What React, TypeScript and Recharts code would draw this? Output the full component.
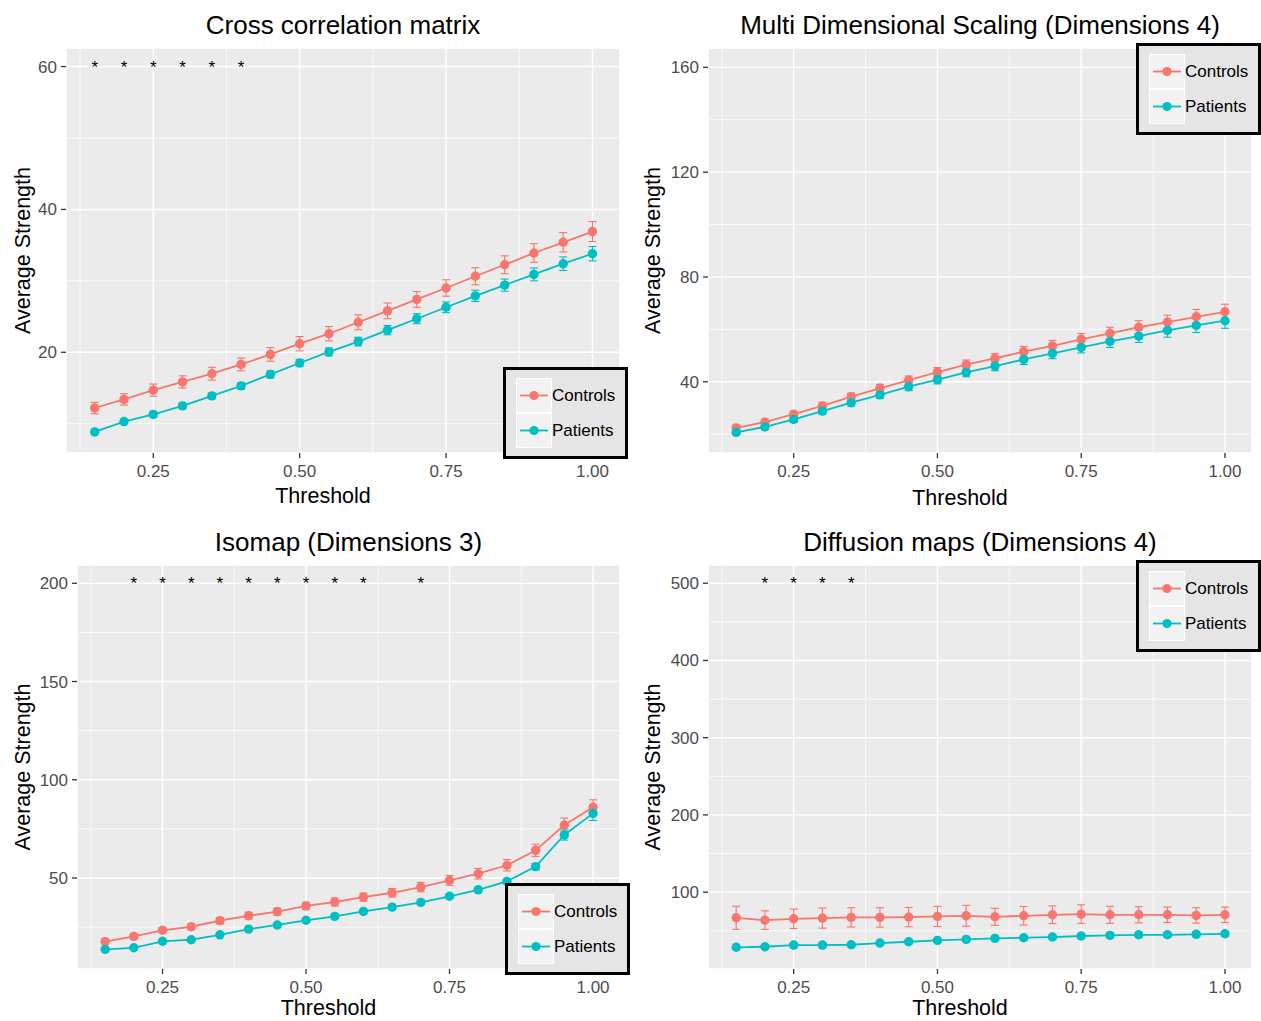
import React from 'react';
import { ComposedChart, Line, Scatter, XAxis, YAxis, CartesianGrid, ReferenceLine, ErrorBar } from 'recharts';

const FONT = '"Liberation Sans", Arial, Helvetica, sans-serif';
const CONTROLS_COLOR = '#F8766D';
const PATIENTS_COLOR = '#00BFC4';

const thresholds = [0.15, 0.2, 0.25, 0.3, 0.35, 0.4, 0.45, 0.5, 0.55, 0.6, 0.65, 0.7, 0.75, 0.8, 0.85, 0.9, 0.95, 1.0];
const xTicks = [0.25, 0.5, 0.75, 1.0];
const xMinorTicks = [0.125, 0.375, 0.625, 0.875];
const xDomain: [number, number] = [0.101, 1.047];

// Cross correlation matrix
const ccControls = [12.2, 13.4, 14.7, 15.85, 17.0, 18.3, 19.7, 21.2, 22.6, 24.2, 25.8, 27.4, 29.0, 30.65, 32.25, 33.9, 35.4, 36.9];
const ccControlsSe = [0.8, 0.8, 0.85, 0.85, 0.9, 0.9, 0.95, 1.0, 1.0, 1.05, 1.1, 1.1, 1.15, 1.2, 1.25, 1.3, 1.35, 1.4];
const ccPatients = [8.85, 10.3, 11.3, 12.5, 13.9, 15.3, 16.9, 18.5, 20.05, 21.5, 23.1, 24.7, 26.3, 27.9, 29.4, 30.9, 32.4, 33.8];
const ccPatientsSe = [0.3, 0.3, 0.35, 0.4, 0.4, 0.45, 0.5, 0.5, 0.55, 0.6, 0.65, 0.7, 0.75, 0.8, 0.85, 0.9, 0.95, 1.0];
const ccStars = [0.15, 0.2, 0.25, 0.3, 0.35, 0.4];
const ccYTicks = [20, 40, 60];
const ccYMinor = [10, 30, 50];

// Multi dimensional scaling
const mdsControls = [22.4, 24.6, 27.6, 30.8, 34.3, 37.5, 40.6, 43.7, 46.5, 48.9, 51.5, 53.7, 56.2, 58.5, 60.8, 62.8, 64.8, 66.7];
const mdsControlsSe = [1.0, 1.1, 1.2, 1.3, 1.4, 1.5, 1.6, 1.7, 1.8, 1.9, 2.0, 2.1, 2.2, 2.3, 2.5, 2.6, 2.8, 2.9];
const mdsPatients = [20.7, 22.8, 25.6, 28.8, 32.0, 35.0, 38.1, 40.8, 43.6, 46.0, 48.5, 50.8, 53.1, 55.4, 57.4, 59.6, 61.5, 63.3];
const mdsPatientsSe = [0.9, 1.0, 1.1, 1.2, 1.3, 1.4, 1.5, 1.6, 1.7, 1.8, 1.9, 2.0, 2.1, 2.3, 2.4, 2.6, 2.7, 2.9];
const mdsStars: number[] = [];
const mdsYTicks = [40, 80, 120, 160];
const mdsYMinor = [20, 60, 100, 140];

// Isomap
const isoControls = [17.6, 20.3, 23.4, 25.2, 28.3, 30.8, 32.9, 35.8, 37.8, 40.3, 42.5, 45.4, 48.8, 52.2, 56.5, 64.1, 77.0, 86.0];
const isoControlsSe = [1.2, 1.3, 1.4, 1.5, 1.6, 1.7, 1.8, 1.9, 2.0, 2.1, 2.2, 2.4, 2.5, 2.7, 2.9, 3.1, 3.5, 3.8];
const isoPatients = [13.7, 14.5, 17.8, 18.6, 21.1, 24.0, 26.1, 28.5, 30.5, 33.0, 35.2, 37.6, 40.7, 44.0, 48.3, 55.8, 71.9, 82.9];
const isoPatientsSe = [0.6, 0.6, 0.7, 0.7, 0.7, 0.8, 0.8, 0.9, 0.9, 1.0, 1.0, 1.1, 1.1, 1.2, 1.3, 1.6, 2.6, 3.6];
const isoStars = [0.2, 0.25, 0.3, 0.35, 0.4, 0.45, 0.5, 0.55, 0.6, 0.7];
const isoYTicks = [50, 100, 150, 200];
const isoYMinor = [25, 75, 125, 175];

// Diffusion maps
const dmControls = [66.8, 63.8, 65.5, 66.4, 67.3, 67.3, 67.7, 68.6, 69.4, 68.1, 69.4, 70.7, 71.6, 70.7, 70.7, 70.7, 69.9, 70.7];
const dmControlsSe = [15, 12, 12.5, 13, 12.5, 12.5, 12.5, 13, 13.5, 11, 12, 11.5, 12, 11, 10.5, 10, 10, 10];
const dmPatients = [28.6, 29.3, 31.5, 31.5, 31.9, 34.1, 35.8, 37.6, 38.9, 40.2, 41.0, 41.9, 43.2, 44.1, 44.8, 44.8, 45.4, 46.1];
const dmPatientsSe = [2.5, 2.5, 2.5, 2.5, 2.5, 2.5, 2.6, 2.6, 2.7, 2.7, 2.8, 2.8, 2.9, 2.9, 3.0, 3.0, 3.1, 3.2];
const dmStars = [0.2, 0.25, 0.3, 0.35];
const dmYTicks = [100, 200, 300, 400, 500];
const dmYMinor = [50, 150, 250, 350, 450];

interface Box {
  left: number;
  top: number;
  width: number;
  height: number;
  yAxisWidth: number;
  marginRight: number;
  xAxisHeight: number;
  yLabelOffset: number;
  xLabelOffset: number;
}

interface PanelProps {
  title: string;
  controls: number[];
  controlsSe: number[];
  patients: number[];
  patientsSe: number[];
  stars: number[];
  starLevel: number;
  yDomain: [number, number];
  yTicks: number[];
  yMinor: number[];
  box: Box;
  legendPos: { left: number; top: number };
}

const PLOT_TOP = 48;

function LegendKey({ color }: { color: string }) {
  return (
    <div style={{ width: 34, height: 33, background: '#F2F2F2', border: '1px solid #fff' }}>
      <svg width={34} height={33}>
        <line x1={3} x2={31} y1={16.5} y2={16.5} stroke={color} strokeWidth={1.8} />
        <circle cx={17} cy={16.5} r={4.6} fill={color} />
      </svg>
    </div>
  );
}

function GroupLegend({ left, top }: { left: number; top: number }) {
  const rows = [
    { name: 'Controls', color: CONTROLS_COLOR },
    { name: 'Patients', color: PATIENTS_COLOR },
  ];
  return (
    <div
      style={{
        position: 'absolute',
        left,
        top,
        width: 119,
        height: 86,
        border: '3px solid #000',
        background: '#E5E5E5',
        boxSizing: 'content-box',
      }}
    >
      <div style={{ position: 'absolute', left: 10, top: 8 }}>
        {rows.map(r => (
          <div key={r.name} style={{ display: 'flex', alignItems: 'center', height: 35 }}>
            <LegendKey color={r.color} />
            <span style={{ fontSize: 17, color: '#000', fontFamily: FONT }}>{r.name}</span>
          </div>
        ))}
      </div>
    </div>
  );
}

function StrengthPanel({ title, controls, controlsSe, patients, patientsSe, stars, starLevel, yDomain, yTicks, yMinor, box, legendPos }: PanelProps) {
  const chartData = thresholds.map((t, i) => ({
    threshold: t,
    controls: controls[i],
    controlsSe: controlsSe[i],
    patients: patients[i],
    patientsSe: patientsSe[i],
  }));
  const starData = stars.map(t => ({ threshold: t, level: starLevel }));

  const plotLeft = box.yAxisWidth;
  const plotWidth = box.width - box.yAxisWidth - box.marginRight;

  const renderStar = (props: any) => (
    <text x={props.cx} y={props.cy + 6} textAnchor="middle" fontSize={17} fontFamily={FONT} fill="#000">
      *
    </text>
  );

  const tickStyle = { fill: '#4D4D4D', fontSize: 17, fontFamily: FONT };
  const tickLine = { stroke: '#333333', strokeWidth: 1.3 };

  return (
    <div style={{ position: 'absolute', left: box.left, top: box.top, width: box.width, height: box.height }}>
      <div
        style={{
          position: 'absolute',
          left: plotLeft,
          top: 9,
          width: plotWidth,
          textAlign: 'center',
          fontSize: 26,
          lineHeight: '32px',
          fontFamily: FONT,
          color: '#000',
          whiteSpace: 'nowrap',
        }}
      >
        {title}
      </div>
      <ComposedChart
        width={box.width}
        height={box.height}
        data={chartData}
        margin={{ top: PLOT_TOP, right: box.marginRight, left: 0, bottom: 0 }}
      >
        <CartesianGrid fill="#EBEBEB" stroke="#FFFFFF" strokeWidth={1.4} />
        {xMinorTicks.map(v => (
          <ReferenceLine key={`xm${v}`} x={v} stroke="#FFFFFF" strokeWidth={0.7} />
        ))}
        {yMinor.map(v => (
          <ReferenceLine key={`ym${v}`} y={v} stroke="#FFFFFF" strokeWidth={0.7} />
        ))}
        <XAxis
          dataKey="threshold"
          type="number"
          domain={xDomain}
          allowDataOverflow
          ticks={xTicks}
          interval={0}
          tickFormatter={(v: number) => v.toFixed(2)}
          axisLine={false}
          tickLine={tickLine}
          tickSize={5}
          tickMargin={7}
          tick={tickStyle}
          height={box.xAxisHeight}
          label={{
            value: 'Threshold',
            position: 'insideBottom',
            offset: box.xLabelOffset,
            dx: -20,
            fill: '#000',
            fontSize: 21.5,
            fontFamily: FONT,
          }}
        />
        <YAxis
          type="number"
          domain={yDomain}
          allowDataOverflow
          ticks={yTicks}
          interval={0}
          axisLine={false}
          tickLine={tickLine}
          tickSize={5}
          tickMargin={4}
          tick={tickStyle}
          width={box.yAxisWidth}
          label={{
            value: 'Average Strength',
            angle: -90,
            position: 'insideLeft',
            offset: box.yLabelOffset,
            fill: '#000',
            fontSize: 21.5,
            fontFamily: FONT,
            style: { textAnchor: 'middle' },
          }}
        />
        <Line
          dataKey="controls"
          type="linear"
          stroke={CONTROLS_COLOR}
          strokeWidth={1.8}
          dot={{ r: 4.7, fill: CONTROLS_COLOR, stroke: CONTROLS_COLOR, strokeWidth: 0 }}
          activeDot={false}
          isAnimationActive={false}
        >
          <ErrorBar dataKey="controlsSe" width={4} strokeWidth={1.1} stroke={CONTROLS_COLOR} direction="y" />
        </Line>
        <Line
          dataKey="patients"
          type="linear"
          stroke={PATIENTS_COLOR}
          strokeWidth={1.8}
          dot={{ r: 4.7, fill: PATIENTS_COLOR, stroke: PATIENTS_COLOR, strokeWidth: 0 }}
          activeDot={false}
          isAnimationActive={false}
        >
          <ErrorBar dataKey="patientsSe" width={4} strokeWidth={1.1} stroke={PATIENTS_COLOR} direction="y" />
        </Line>
        {starData.length > 0 && (
          <Scatter data={starData} dataKey="level" shape={renderStar} isAnimationActive={false} />
        )}
      </ComposedChart>
      <GroupLegend left={legendPos.left} top={legendPos.top} />
    </div>
  );
}

export default function App() {
  return (
    <div style={{ position: 'absolute', left: 0, top: 0, width: 1261, height: 1021, background: '#fff', fontFamily: FONT }}>
      <StrengthPanel
        title="Cross correlation matrix"
        controls={ccControls}
        controlsSe={ccControlsSe}
        patients={ccPatients}
        patientsSe={ccPatientsSe}
        stars={ccStars}
        starLevel={60}
        yDomain={[5.9, 62.6]}
        yTicks={ccYTicks}
        yMinor={ccYMinor}
        box={{ left: 0, top: 0, width: 630, height: 515, yAxisWidth: 66, marginRight: 10, xAxisHeight: 62, yLabelOffset: 22, xLabelOffset: 12 }}
        legendPos={{ left: 503, top: 367 }}
      />
      <StrengthPanel
        title="Multi Dimensional Scaling (Dimensions 4)"
        controls={mdsControls}
        controlsSe={mdsControlsSe}
        patients={mdsPatients}
        patientsSe={mdsPatientsSe}
        stars={mdsStars}
        starLevel={160}
        yDomain={[12.8, 167.4]}
        yTicks={mdsYTicks}
        yMinor={mdsYMinor}
        box={{ left: 640, top: 0, width: 621, height: 515, yAxisWidth: 68, marginRight: 9, xAxisHeight: 62, yLabelOffset: 12, xLabelOffset: 10 }}
        legendPos={{ left: 496, top: 43 }}
      />
      <StrengthPanel
        title="Isomap (Dimensions 3)"
        controls={isoControls}
        controlsSe={isoControlsSe}
        patients={isoPatients}
        patientsSe={isoPatientsSe}
        stars={isoStars}
        starLevel={200}
        yDomain={[3.7, 209.3]}
        yTicks={isoYTicks}
        yMinor={isoYMinor}
        box={{ left: 0, top: 517, width: 630, height: 504, yAxisWidth: 77, marginRight: 10, xAxisHeight: 52, yLabelOffset: 22, xLabelOffset: 6 }}
        legendPos={{ left: 505, top: 366 }}
      />
      <StrengthPanel
        title="Diffusion maps (Dimensions 4)"
        controls={dmControls}
        controlsSe={dmControlsSe}
        patients={dmPatients}
        patientsSe={dmPatientsSe}
        stars={dmStars}
        starLevel={500}
        yDomain={[0.5, 523.6]}
        yTicks={dmYTicks}
        yMinor={dmYMinor}
        box={{ left: 640, top: 517, width: 621, height: 504, yAxisWidth: 68, marginRight: 9, xAxisHeight: 52, yLabelOffset: 12, xLabelOffset: 6 }}
        legendPos={{ left: 496, top: 43 }}
      />
    </div>
  );
}
